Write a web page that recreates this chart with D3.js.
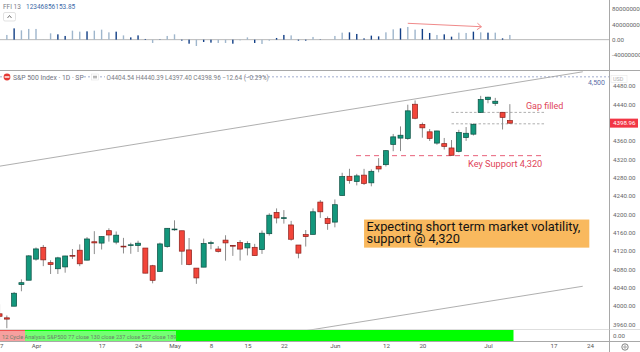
<!DOCTYPE html>
<meta charset="utf-8">
<script src="https://d3js.org/d3.v7.min.js"></script>
<style>
  body { margin: 0; background: #fff; }
  text { font-family: Roboto, "Liberation Sans", sans-serif; }
</style>
<div id="my_dataviz"></div>

<script>
  // daily candles, S&P 500, 27 Mar - 7 Jul
  var dates = ["03-27","03-28","03-29","03-30","03-31","04-03","04-04","04-05","04-06","04-10",
    "04-11","04-12","04-13","04-14","04-17","04-18","04-19","04-20","04-21","04-24",
    "04-25","04-26","04-27","04-28","05-01","05-02","05-03","05-04","05-05","05-08",
    "05-09","05-10","05-11","05-12","05-15","05-16","05-17","05-18","05-19","05-22",
    "05-23","05-24","05-25","05-26","05-30","05-31","06-01","06-02","06-05","06-06",
    "06-07","06-08","06-09","06-12","06-13","06-14","06-15","06-16","06-20","06-21",
    "06-22","06-23","06-26","06-27","06-28","06-29","06-30","07-03","07-05","07-06","07-07"];
  var opens = [3982.9,3974.1,3999.5,4046.7,4056.2,4102.2,4128.0,4094.5,4081.2,4085.2,
    4110.3,4121.7,4100.0,4140.1,4137.2,4164.3,4139.3,4130.5,4132.1,4132.1,
    4126.4,4087.8,4075.3,4129.6,4166.8,4164.1,4122.3,4082.6,4084.7,4137.0,
    4124.3,4143.7,4132.2,4138.5,4126.7,4128.0,4122.9,4157.7,4204.2,4190.8,
    4176.8,4133.0,4155.7,4156.2,4226.7,4190.7,4183.0,4241.0,4283.0,4271.6,
    4285.5,4268.7,4304.9,4308.3,4352.6,4366.3,4365.3,4440.2,4396.1,4380.0,
    4355.4,4354.2,4344.8,4337.4,4367.5,4374.9,4422.4,4450.5,4442.0,4422.6,4404.54];
  var highs = [4003.8,3979.2,4030.6,4057.9,4110.8,4127.7,4133.1,4099.7,4107.3,4109.5,
    4124.3,4134.4,4150.3,4163.2,4151.7,4169.5,4162.6,4148.6,4138.0,4142.4,
    4126.4,4089.7,4138.2,4170.1,4186.9,4164.1,4148.3,4082.6,4147.0,4142.3,
    4130.4,4154.3,4132.8,4143.7,4141.3,4135.5,4164.7,4202.2,4212.9,4209.2,
    4185.7,4133.0,4165.7,4212.9,4231.1,4195.4,4232.4,4290.7,4299.3,4288.3,
    4299.2,4298.0,4322.6,4340.1,4375.4,4391.8,4439.2,4448.5,4400.2,4386.2,
    4382.3,4366.6,4362.1,4384.4,4390.4,4398.4,4458.5,4456.5,4454.1,4422.6,4440.39];
  var lows = [3970.5,3951.5,3999.5,4032.1,4056.2,4098.8,4086.9,4069.8,4069.8,4072.6,
    4102.6,4086.9,4099.4,4113.2,4123.2,4140.4,4134.5,4114.6,4113.9,4117.8,
    4071.4,4049.4,4075.3,4127.2,4164.1,4089.7,4088.9,4048.3,4084.7,4123.8,
    4116.7,4098.9,4109.3,4099.1,4110.3,4109.9,4113.6,4153.5,4180.2,4179.7,
    4142.5,4104.0,4129.7,4156.2,4192.2,4166.2,4171.6,4241.0,4266.8,4263.1,
    4264.0,4261.1,4291.7,4304.4,4337.7,4337.9,4362.6,4407.4,4367.2,4360.1,
    4351.8,4341.3,4328.1,4335.0,4360.2,4372.0,4422.4,4442.3,4436.6,4385.1,4397.40];
  var closes = [3977.5,3971.3,4027.8,4050.8,4109.3,4124.5,4100.6,4090.4,4105.0,4109.1,
    4108.9,4092.0,4146.2,4137.6,4151.3,4154.9,4154.5,4129.8,4133.5,4137.0,
    4071.6,4056.0,4135.4,4169.5,4167.9,4119.6,4090.8,4061.2,4136.3,4138.1,
    4119.2,4137.6,4130.6,4124.1,4136.3,4109.9,4158.8,4198.1,4192.0,4192.6,
    4145.6,4115.2,4151.3,4205.5,4205.5,4179.8,4221.0,4282.4,4273.8,4283.9,
    4267.5,4293.9,4298.9,4338.9,4369.0,4372.6,4425.8,4409.6,4388.7,4365.7,
    4381.9,4348.3,4328.8,4378.4,4376.9,4396.4,4450.4,4455.6,4446.8,4411.6,4398.96];

  // FFI 13 histogram, billions
  var ffi = [0,12.3,29.5,24.3,28.0,28.0,0.5,16.5,13.9,9.7,
    23.5,20.9,21.7,23.5,26.1,19.1,20.9,11.2,6.0,11.2,
    1.8,-8.6,0.8,9.7,13.9,-2.6,-10.5,-16.5,-6.0,-7.8,
    -8.6,-8.6,-10.5,-1.8,6.0,-8.6,-11.2,-2.6,4.4,12.3,
    11.2,-2.6,-2.6,7.1,0.8,0,9.7,18.3,19.1,14.9,
    3.4,10.5,8.6,19.1,26.9,29.5,33.2,26.1,28.0,17.5,
    12.3,13.9,7.8,18.3,17.5,20.9,19.1,18.3,18.3,3.4,12.3];
  var ffiDark = [0,0,1,0,0,0,0,0,1,1,0,0,1,0,0,0,1,0,1,1,1,0,1,0,0,1,1,0,1,1,
    0,0,1,0,0,1,0,0,1,1,0,1,1,0,1,0,0,0,1,1,1,1,1,0,0,1,0,0,1,1,
    0,1,1,0,0,1,0,1,0,1,0];
  var ffiTicks = [80, 40, 0, -40];
  var ffiTickLabels = ["80000000000", "40000000000", "0.00", "-40000000000"];

  var priceTicks = [4480,4440,4360,4320,4280,4240,4200,4160,4120,4080,4040,4000,3960];
  var dateTickIdx = [0,5,14,19,24,29,34,39,46,53,58,67,76,81];
  var dateTickLabels = ["27","Apr","17","24","May","8","15","22","Jun","12","20","Jul","17","24"];

  // channel lines [index, price]
  var upperLine = [[0, 4305], [80, 4511]];
  var lowerLine = [[0, 3839], [80, 4043]];
  var gapLevels = [4422.4, 4397.5];
  var supportLevel = 4328;
  var alertLevel = 4500;

  var W = 640, H = 352, axisX = 609;

  var svg = d3.select("#my_dataviz")
    .append("svg")
    .attr("width", W)
    .attr("height", H)
    .style("display", "block");

  svg.append("rect").attr("width", W).attr("height", H).attr("fill", "#fff");

  var x = d3.scaleLinear().domain([0, 70]).range([-0.45, 509.85]);
  var y = d3.scaleLinear().domain([3960, 4480]).range([324.3, 86]);
  var yF = d3.scaleLinear().domain([-40, 80]).range([55, 9]);

  var defs = svg.append("defs");
  defs.append("clipPath").attr("id", "mainClip")
    .append("rect").attr("x", 0).attr("y", 71).attr("width", axisX).attr("height", 259);
  defs.append("clipPath").attr("id", "topClip")
    .append("rect").attr("x", 0).attr("y", 0).attr("width", axisX).attr("height", 70);

  // ---------- top pane (FFI 13) ----------
  var topPane = svg.append("g").attr("clip-path", "url(#topClip)");
  topPane.append("line")
    .attr("x1", 0).attr("x2", axisX)
    .attr("y1", yF(0)).attr("y2", yF(0))
    .attr("stroke", "#b8b8b8").attr("stroke-width", 1);

  topPane.selectAll(".hist")
    .data(ffi)
    .enter().append("rect")
    .attr("x", function(d, i) { return x(i) - 0.7; })
    .attr("width", 1.4)
    .attr("y", function(d) { return Math.min(yF(d), yF(0)); })
    .attr("height", function(d) { return Math.abs(yF(d) - yF(0)); })
    .attr("fill", function(d, i) { return ffiDark[i] ? "#123f86" : "#9fb6cc"; });

  // red arrow
  var arrowStart = [56, 42.7], arrowEnd = [66.1, 33.8];
  var ax2 = x(arrowEnd[0]), ay2 = yF(arrowEnd[1]);
  topPane.append("line")
    .attr("x1", x(arrowStart[0])).attr("y1", yF(arrowStart[1]))
    .attr("x2", ax2).attr("y2", ay2)
    .attr("stroke", "#f08a8a").attr("stroke-width", 1);
  topPane.append("path")
    .attr("d", "M" + (ax2 - 4) + "," + (ay2 - 3.5) + "L" + ax2 + "," + ay2 + "L" + (ax2 - 4.5) + "," + (ay2 + 3))
    .attr("fill", "none").attr("stroke", "#f08a8a").attr("stroke-width", 1);

  svg.append("text").attr("x", 3).attr("y", 8.5)
    .attr("font-size", 6.5).attr("fill", "#787b86").text("FFI 13");
  svg.append("text").attr("x", 26).attr("y", 8.5)
    .attr("font-size", 6.5).attr("fill", "#3d6aa8").text("12346856153.85");
  svg.append("rect").attr("x", 3.5).attr("y", 12.5).attr("width", 12).attr("height", 8.5)
    .attr("rx", 1.5).attr("fill", "#fff").attr("stroke", "#d6d6d6").attr("stroke-width", 0.7);
  svg.append("path").attr("d", "M7.5,18L9.5,15.5L11.5,18")
    .attr("fill", "none").attr("stroke", "#555").attr("stroke-width", 0.8);

  svg.append("g").attr("transform", "translate(" + (axisX + 3) + ",0)")
    .call(d3.axisRight(yF).tickValues(ffiTicks).tickSize(0)
      .tickFormat(function(d, i) { return ffiTickLabels[i]; }))
    .call(function(g) {
      g.select(".domain").remove();
      g.selectAll("text").attr("x", 0).attr("font-size", 6.2).attr("fill", "#666")
        .attr("font-family", "Roboto, sans-serif");
    });

  // pane separator
  svg.append("line").attr("x1", 0).attr("x2", W).attr("y1", 70.5).attr("y2", 70.5)
    .attr("stroke", "#a8a8a8").attr("stroke-width", 1);

  // ---------- main pane ----------
  var main = svg.append("g").attr("clip-path", "url(#mainClip)");

  // alert level dotted line
  main.append("line")
    .attr("x1", 0).attr("x2", axisX)
    .attr("y1", y(alertLevel)).attr("y2", y(alertLevel))
    .attr("stroke", "#8a98c4").attr("stroke-width", 0.8)
    .attr("stroke-dasharray", "2,2");
  main.append("text").attr("x", 605).attr("y", y(alertLevel) + 8)
    .attr("text-anchor", "end").attr("font-size", 7).attr("fill", "#5d6fa8").text("4,500");

  var line = d3.line()
    .x(function(d) { return x(d[0]); })
    .y(function(d) { return y(d[1]); });
  [upperLine, lowerLine].forEach(function(l) {
    main.append("path").datum(l)
      .attr("d", line)
      .attr("fill", "none").attr("stroke", "#9a9a9a").attr("stroke-width", 0.8);
  });

  // gap lines
  gapLevels.forEach(function(p) {
    main.append("line")
      .attr("x1", x(62)).attr("x2", x(74.8))
      .attr("y1", y(p)).attr("y2", y(p))
      .attr("stroke", "#9a9a9a").attr("stroke-width", 0.8)
      .attr("stroke-dasharray", "2.5,2");
  });
  main.append("text").attr("x", x(72.2)).attr("y", y(4437) + 3)
    .attr("font-family", "Open Sans, sans-serif")
    .attr("font-size", 9).attr("fill", "#e0455a").text("Gap filled");

  // key support
  main.append("line")
    .attr("x1", x(48.9)).attr("x2", x(74.5))
    .attr("y1", y(supportLevel)).attr("y2", y(supportLevel))
    .attr("stroke", "#e8607a").attr("stroke-width", 1)
    .attr("stroke-dasharray", "5,4");
  main.append("text").attr("x", x(69.35)).attr("y", y(4309) + 3)
    .attr("text-anchor", "middle")
    .attr("font-family", "Open Sans, sans-serif")
    .attr("font-size", 9.2).attr("fill", "#e0455a").text("Key Support 4,320");

  // candles
  var candle = main.selectAll(".candle")
    .data(closes)
    .enter().append("g");
  candle.append("line")
    .attr("x1", function(d, i) { return x(i); })
    .attr("x2", function(d, i) { return x(i); })
    .attr("y1", function(d, i) { return y(highs[i]); })
    .attr("y2", function(d, i) { return y(lows[i]); })
    .attr("stroke", "#8c8c8c").attr("stroke-width", 1);
  candle.append("rect")
    .attr("x", function(d, i) { return x(i) - 2.5; })
    .attr("width", 5)
    .attr("y", function(d, i) { return y(Math.max(opens[i], d)); })
    .attr("height", function(d, i) { return Math.max(0.8, Math.abs(y(opens[i]) - y(d))); })
    .attr("fill", function(d, i) { return d >= opens[i] ? "#13977c" : "#f2453a"; })
    .attr("stroke", function(d, i) { return d >= opens[i] ? "#0b4d40" : "#8a1f1a"; })
    .attr("stroke-width", 0.7);

  // callout box
  var boxX0 = x(50), boxX1 = x(80.9), boxY0 = y(4188.6), boxY1 = y(4127.3);
  main.append("rect")
    .attr("x", boxX0).attr("y", boxY0)
    .attr("width", boxX1 - boxX0).attr("height", boxY1 - boxY0)
    .attr("fill", "#f9b95e");
  var boxText = main.append("text")
    .attr("font-family", "Open Sans, sans-serif")
    .attr("font-size", 12.8).attr("fill", "#141414");
  boxText.append("tspan").attr("x", boxX0 + 2.5).attr("y", boxY0 + 11.4)
    .text("Expecting short term market volatility,");
  boxText.append("tspan").attr("x", boxX0 + 2.5).attr("y", boxY0 + 23.4)
    .text("support @ 4,320");

  // legend row
  var legend = svg.append("g");
  legend.append("rect").attr("x", 2).attr("y", 73).attr("width", 81).attr("height", 8).attr("fill", "#fff");
  legend.append("rect").attr("x", 105).attr("y", 73).attr("width", 140).attr("height", 8).attr("fill", "#fff");
  legend.append("circle").attr("cx", 7).attr("cy", 77).attr("r", 3.4).attr("fill", "#e53935");
  legend.append("rect").attr("x", 4.6).attr("y", 76.3).attr("width", 4.8).attr("height", 1.4).attr("fill", "#fff");
  legend.append("text").attr("x", 13).attr("y", 79.5)
    .attr("font-size", 6.8).attr("fill", "#6f7380").text("S&P 500 Index · 1D · SP");
  legend.append("rect").attr("x", 91.5).attr("y", 74).attr("width", 7).attr("height", 6)
    .attr("fill", "#fff").attr("stroke", "#ddd").attr("stroke-width", 0.5);
  legend.append("path").attr("d", "M93,76.3h4M93,77.8h4").attr("stroke", "#777").attr("stroke-width", 0.7);
  legend.append("text").attr("x", 106.5).attr("y", 79.5)
    .attr("font-size", 6.4).attr("fill", "#7a7d86")
    .text("O4404.54 H4440.39 L4397.40 C4398.96 \u221212.64 (\u22120.29%)");

  // price axis
  svg.append("line").attr("x1", axisX + 0.5).attr("x2", axisX + 0.5).attr("y1", 0).attr("y2", H)
    .attr("stroke", "#a8a8a8").attr("stroke-width", 1);
  svg.append("g").attr("transform", "translate(" + (axisX + 4) + ",0)")
    .call(d3.axisRight(y).tickValues(priceTicks).tickSize(0).tickFormat(d3.format(".2f")))
    .call(function(g) {
      g.select(".domain").remove();
      g.selectAll("text").attr("x", 0).attr("font-size", 6.2).attr("fill", "#666")
        .attr("font-family", "Roboto, sans-serif");
    });
  svg.append("rect").attr("x", 611).attr("y", y(alertLevel) - 1.5).attr("width", 16).attr("height", 7)
    .attr("fill", "#fff").attr("stroke", "#e4e4e4").attr("stroke-width", 0.5);
  svg.append("text").attr("x", 613).attr("y", y(alertLevel) + 4)
    .attr("font-size", 5.5).attr("fill", "#b0b0b0").text("USD");
  var last = closes[closes.length - 1];
  svg.append("rect").attr("x", 610).attr("y", y(last) - 4.5).attr("width", 28).attr("height", 9)
    .attr("fill", "#f23645");
  svg.append("text").attr("x", 613).attr("y", y(last) + 2.2)
    .attr("font-size", 6.2).attr("fill", "#fff").text(d3.format(".2f")(last));

  // ---------- cycle strip ----------
  var stripY = 330, stripH = 11;
  svg.append("rect").attr("x", 0).attr("y", stripY).attr("width", x(70.5)).attr("height", stripH)
    .attr("fill", "#00ff00");
  svg.append("rect").attr("x", 0).attr("y", stripY).attr("width", 25).attr("height", stripH)
    .attr("fill", "#ef5350");
  svg.append("rect").attr("x", 0).attr("y", stripY + 1).attr("width", 176).attr("height", stripH - 1)
    .attr("fill", "#fff").attr("opacity", 0.45);
  svg.append("text").attr("x", 2).attr("y", stripY + 9)
    .attr("font-size", 5.6).attr("fill", "#6a7f6a")
    .text("12 Cycle Analysis S&P500 77 close 130 close 237 close 527 close 189");
  svg.append("text").attr("x", axisX + 4).attr("y", stripY + 8)
    .attr("font-size", 6.2).attr("fill", "#666").text("0.00");
  svg.append("line").attr("x1", 0).attr("x2", W).attr("y1", stripY - 0.5).attr("y2", stripY - 0.5)
    .attr("stroke", "#c8c8c8").attr("stroke-width", 0.6);

  // ---------- date axis ----------
  svg.append("line").attr("x1", 0).attr("x2", W).attr("y1", 341.5).attr("y2", 341.5)
    .attr("stroke", "#a8a8a8").attr("stroke-width", 1);
  svg.append("g").attr("transform", "translate(0,342)")
    .call(d3.axisBottom(x).tickValues(dateTickIdx).tickSize(0)
      .tickFormat(function(d, i) { return dateTickLabels[i]; }))
    .call(function(g) {
      g.select(".domain").remove();
      g.selectAll("text").attr("y", 2).attr("font-size", 6.2).attr("fill", "#555")
        .attr("font-family", "Roboto, sans-serif");
    });

  // settings icon
  svg.append("circle").attr("cx", 625).attr("cy", 347).attr("r", 3.2)
    .attr("fill", "none").attr("stroke", "#666").attr("stroke-width", 0.8);
  svg.append("circle").attr("cx", 625).attr("cy", 347).attr("r", 1.2)
    .attr("fill", "none").attr("stroke", "#666").attr("stroke-width", 0.6);
</script>
